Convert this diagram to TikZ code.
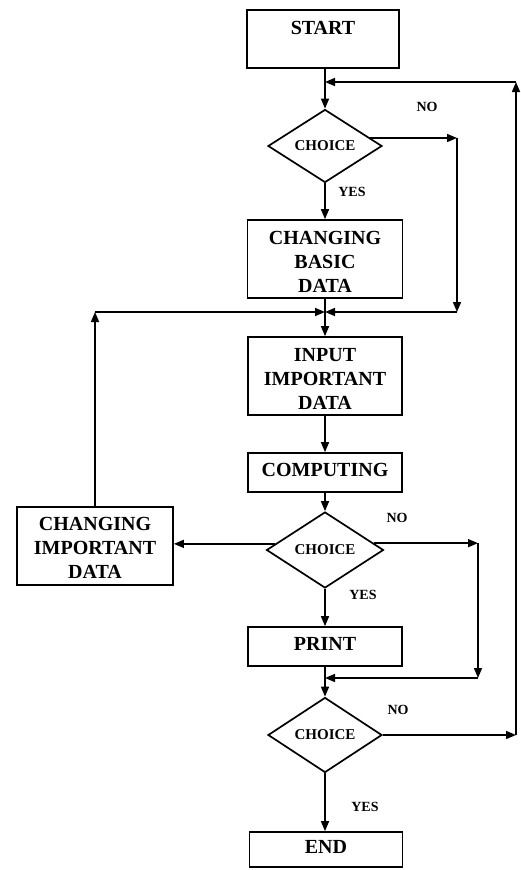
\documentclass[tikz,border=0pt]{standalone}
\usepackage{fontspec}
\setmainfont{Liberation Serif}
\usetikzlibrary{shapes.geometric,arrows.meta,calc}

\begin{document}
\begin{tikzpicture}[x=1pt,y=-1pt,
  box/.style={draw, line width=1.7pt, inner sep=0pt, align=center,
    font=\fontsize{20}{24}\selectfont\bfseries},
  choice/.style={draw, diamond, line width=1.7pt, inner sep=0pt,
    font=\fontsize{15}{17}\selectfont\bfseries},
  flow/.style={line width=1.5pt, -{Triangle[length=10pt,width=8pt]}},
  plain/.style={line width=1.5pt},
  lbl/.style={font=\fontsize{14}{16}\selectfont\bfseries, inner sep=0pt}
]
\useasboundingbox (0,0) rectangle (520,870);

% main column
\node[box, minimum width=152pt, minimum height=58pt, text height=14pt, text depth=24pt]
  (start) at (323,39) {START};
\node[choice, minimum width=114pt, minimum height=73pt] (c1) at (325,146) {CHOICE};
\node[box, minimum width=155pt, minimum height=78pt, text height=68pt]
  (basic) at (325,259) {CHANGING\\BASIC\\DATA};
\node[box, minimum width=154pt, minimum height=78pt, text height=68pt]
  (input) at (325,376) {INPUT\\IMPORTANT\\DATA};
\node[box, minimum width=154pt, minimum height=39pt, text depth=6pt]
  (comp) at (325,472.5) {COMPUTING};
\node[choice, minimum width=117pt, minimum height=76pt] (c2) at (325,550) {CHOICE};
\node[box, minimum width=156pt, minimum height=78pt, text height=66pt]
  (chimp) at (95,546) {CHANGING\\IMPORTANT\\DATA};
\node[box, minimum width=154pt, minimum height=39pt, text depth=5pt]
  (print) at (325,646.5) {PRINT};
\node[choice, minimum width=114pt, minimum height=75pt] (c3) at (325,735) {CHOICE};
\node[box, minimum width=153pt, minimum height=35pt, text depth=5pt]
  (end) at (326,849.5) {END};

% junctions and corners
\coordinate (top)  at (325,82);
\coordinate (r1)   at (457,0);
\coordinate (m1)   at (325,312);
\coordinate (lft)  at (95,312);
\coordinate (r2)   at (478,0);
\coordinate (m2)   at (325,678);
\coordinate (far)  at (516,0);

% yes/no labels
\node[lbl] (no1)  at (427,107) {NO};
\node[lbl] (yes1) at (352,192) {YES};
\node[lbl] (no2)  at (397,518) {NO};
\node[lbl] (yes2) at (363,595) {YES};
\node[lbl] (no3)  at (398,710) {NO};
\node[lbl] (yes3) at (365,807) {YES};

% main flow
\draw[plain] (start.south -| top) -- (top);
\draw[flow] (top) -- (c1.north);
\draw[flow] (c1.south) -- (basic.north);
\draw[plain] (basic.south) -- (m1);
\draw[flow] (m1) -- (input.north);
\draw[flow] (input.south) -- (comp.north);
\draw[flow] (comp.south) -- (c2.north);
\draw[flow] (c2.south) -- (print.north);
\draw[plain] (print.south) -- (m2);
\draw[flow] (m2) -- (c3.north);
\draw[flow] (c3.south) -- (end.north -| c3.south);

% first NO branch: skip the basic data change
\draw[flow] (c1.10) -- (c1.10 -| r1);
\draw[flow] (c1.10 -| r1) -- (m1 -| r1);
\draw[flow] (m1 -| r1) -- (m1);

% second choice: change important data and feed back
\draw[flow] (c2.173) -- (c2.173 -| chimp.east);
\draw[flow] (chimp.north) -- (lft);
\draw[flow] (lft) -- (m1);

% second NO branch: skip printing
\draw[flow] (c2.8) -- (c2.8 -| r2);
\draw[flow] (c2.8 -| r2) -- (m2 -| r2);
\draw[flow] (m2 -| r2) -- (m2);

% third NO branch: back to the first choice
\draw[flow] (c3.east) -- (c3.east -| far);
\draw[flow] (c3.east -| far) -- (top -| far);
\draw[flow] (top -| far) -- (top);
\end{tikzpicture}
\end{document}
